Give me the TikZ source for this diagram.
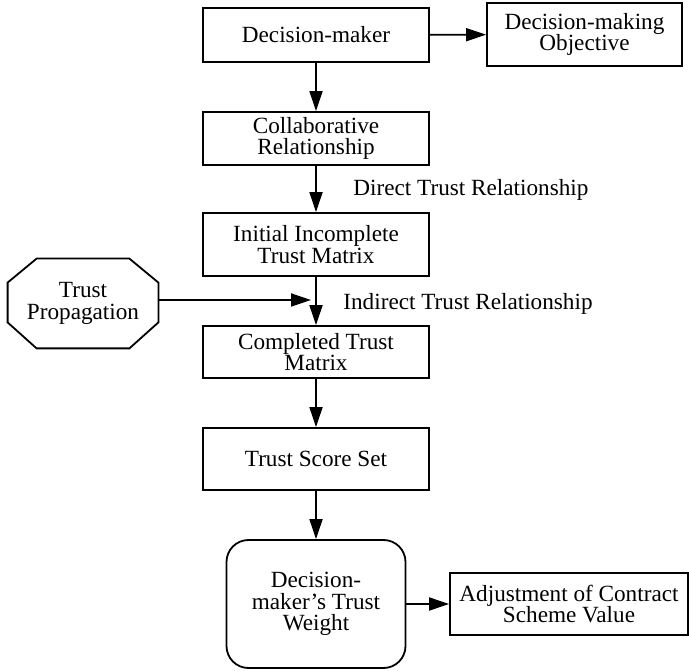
\documentclass[tikz,border=0pt]{standalone}
\usepackage{fontspec}
\setmainfont{Liberation Serif}
\usetikzlibrary{arrows.meta}
\begin{document}
\begin{tikzpicture}[x=0.5pt,y=-0.5pt,
  every node/.style={font=\fontsize{11.6}{10.8}\selectfont, align=center, inner sep=0pt},
  box/.style={draw, line width=0.9pt, minimum width=113pt},
  rbox/.style={draw, line width=0.9pt, rounded corners=11pt},
  lbl/.style={anchor=west},
  arr/.style={line width=0.9pt, -{Triangle[length=10pt,width=6.5pt]}}]
\useasboundingbox (0,0) rectangle (689,672);

% main column
\node[box, minimum height=27pt] (dm)   at (316,35)  {Decision-maker};
\node[box, minimum height=26.5pt] (cr) at (316,138.5) {Collaborative\\Relationship};
\node[box, minimum height=31.5pt] (itm) at (316,244.5) {Initial Incomplete\\Trust Matrix};
\node[box, minimum height=26pt] (ctm) at (316,352) {Completed Trust\\Matrix};
\node[box, minimum height=31pt] (tss) at (316,459) {Trust Score Set};
\node[rbox, minimum width=89.5pt, minimum height=64pt] (dtw) at (316,604) {Decision-\\maker's Trust\\Weight};

% side boxes
\node[box, minimum width=97.5pt, minimum height=31.5pt] (obj) at (584.5,34.5) {Decision-making\\Objective};
\node[box, minimum width=119pt, minimum height=31pt] (adj) at (569,604) {Adjustment of Contract\\Scheme Value};

% octagon
\node[minimum width=75pt, minimum height=44.5pt] (tp) at (83,303.5) {Trust\\Propagation};
\draw[line width=0.9pt]
  ([xshift=14.5pt]tp.north west) -- ([xshift=-14.5pt]tp.north east)
  -- ([yshift=-12pt]tp.north east) -- ([yshift=13pt]tp.south east)
  -- ([xshift=-14.5pt]tp.south east) -- ([xshift=14.5pt]tp.south west)
  -- ([yshift=13pt]tp.south west) -- ([yshift=-12pt]tp.north west) -- cycle;

% labels
\node[lbl] (dtr) at (353,190) {Direct Trust Relationship};
\node[lbl] (itr) at (343,304) {Indirect Trust Relationship};

% connectors
\coordinate (j) at (311,300);
\draw[arr] (dm) -- (cr);
\draw[arr] (dm) -- (obj);
\draw[arr] (cr) -- (itm);
\draw[arr] (itm) -- (ctm);
\draw[arr] (tp.east |- j) -- (j);
\draw[arr] (ctm) -- (tss);
\draw[arr] (tss) -- (dtw);
\draw[arr] (dtw) -- (adj);
\end{tikzpicture}
\end{document}
